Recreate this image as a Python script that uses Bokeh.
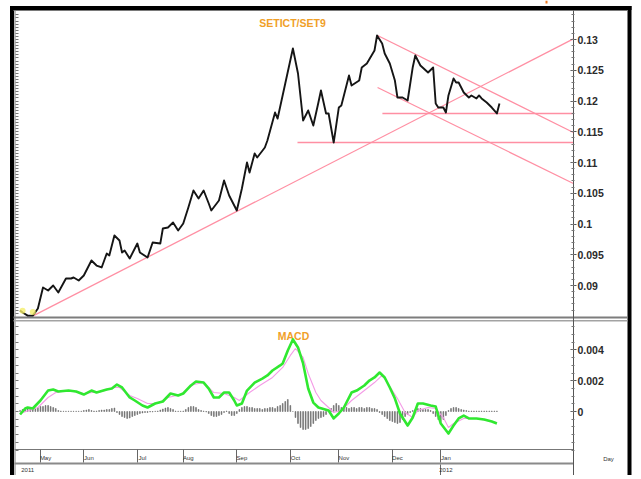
import numpy as np
from bokeh.plotting import figure
from bokeh.models import Range1d, LinearAxis, FixedTicker
from bokeh.core.properties import value
from bokeh.embed import file_html
from bokeh.resources import INLINE

# ---------------- data (x = trading-day index) ----------------
price_day = [1, 2, 4, 6, 8,
             10, 12, 14, 16, 19,
             21, 22, 24, 26, 29,
             31, 33, 34, 35, 36,
             38, 40, 41, 42, 44,
             47, 48, 51, 53, 56,
             57, 59, 61, 63, 65,
             67, 69, 71, 73, 75,
             76, 79, 81, 83, 86,
             88, 90, 91, 93, 94,
             97, 98, 101, 102, 105,
             108, 110, 112, 114, 116,
             118, 119, 121, 122, 124,
             126, 127, 130, 131, 134,
             135, 137, 140, 141, 143,
             144, 146, 148, 149, 151,
             153, 155, 156, 158, 161,
             163, 164, 165, 167, 168,
             169, 171, 172, 173, 175,
             177, 178, 180, 181, 182,
             184, 186, 188, 189]
price_val = [0.08593, 0.08561, 0.0851, 0.0851, 0.08626,
             0.08967, 0.08919, 0.0900, 0.08886, 0.09114,
             0.09114, 0.0913, 0.09081, 0.09163, 0.09407,
             0.09325, 0.09293, 0.09407, 0.0952, 0.09488,
             0.09813, 0.09732, 0.09537, 0.09569, 0.09439,
             0.09683, 0.09537, 0.09455, 0.09699, 0.09683,
             0.09927, 0.09943, 0.10024, 0.09894, 0.10008,
             0.10268, 0.10545, 0.10415, 0.10545, 0.10333,
             0.1022, 0.10382, 0.10707, 0.10463, 0.1022,
             0.10577, 0.1100, 0.10837, 0.11146, 0.11081,
             0.11244, 0.11358, 0.11813, 0.11715, 0.12285,
             0.12854, 0.12447, 0.11683, 0.11846, 0.11602,
             0.11976, 0.12171, 0.11797, 0.11797, 0.11325,
             0.11894, 0.11927, 0.12415, 0.12252, 0.12333,
             0.12545, 0.1261, 0.12821, 0.13065, 0.12935,
             0.12772, 0.1261, 0.12333, 0.12057, 0.12057,
             0.12008, 0.1255, 0.1274, 0.12577, 0.12463,
             0.12545, 0.11959, 0.11894, 0.11894, 0.11813,
             0.1209, 0.12366, 0.1230, 0.1230, 0.12138,
             0.12057, 0.1209, 0.12041, 0.1209, 0.12041,
             0.11976, 0.11894, 0.11797, 0.11959]

macd_day = [1, 3, 4, 6, 9, 12, 14, 16, 20, 23, 26, 29, 31, 35, 37, 39, 41, 44, 46, 49,
            51, 54, 57, 60, 63, 65, 68, 70, 73, 75, 77, 79, 81, 83, 85, 86, 88, 90, 93, 96,
            98, 100, 103, 104, 106, 108, 110, 112, 114, 116, 118, 122, 124, 126, 128, 131,
            133, 136, 138, 140, 142, 144, 146, 148, 150, 153, 155, 157, 159, 162, 164, 166,
            169, 171, 173, 175, 177, 180, 183, 186, 188]
macd_val = [-0.000195, 0.000195, 0.00026, 0.000195, 0.000714,
            0.00136, 0.00143, 0.0013, 0.00136, 0.0013,
            0.0011, 0.00136, 0.00123, 0.00143, 0.00149,
            0.00175, 0.00156, 0.00091, 0.000714, 0.00039,
            0.00026, 0.00052, 0.00065, 0.00117, 0.00104,
            0.00117, 0.00169, 0.00195, 0.00188, 0.00149,
            0.00091, 0.00091, 0.00123, 0.00123, 0.000714,
            0.00039, 0.00052, 0.00136, 0.00188, 0.00214,
            0.00234, 0.00266, 0.00299, 0.00312, 0.00396,
            0.00468, 0.00416, 0.00312, 0.00149, 0.00058,
            0.00026, 0.000065, -0.00045, -0.00013, 0.00026,
            0.00123, 0.00136, 0.00169, 0.00201, 0.00221,
            0.00253, 0.00221, 0.00156, 0.00084, -0.00013,
            -0.00091, -0.00039, 0.00052, 0.00052, 0.00039,
            0.00032, -0.00078, -0.00143, -0.00091, -0.00045,
            -0.00026, -0.00045, -0.00045, -0.00052, -0.00065,
            -0.00078]

signal_day = [1, 8, 12, 15, 20, 26, 33, 38, 40, 44, 47, 51, 55, 59, 64, 69, 73, 77, 81, 85,
              87, 91, 95, 100, 104, 107, 109, 112, 114, 117, 119, 122, 124, 127, 131, 136,
              140, 143, 145, 149, 152, 155, 157, 161, 164, 167, 169, 171, 175, 180, 188]
signal_val = [-0.00013, 0.00026, 0.00091, 0.00123, 0.00136,
              0.00117, 0.0013, 0.00156, 0.00156, 0.00104,
              0.00084, 0.00052, 0.00052, 0.00091, 0.0011,
              0.00175, 0.00188, 0.00123, 0.00117, 0.00091,
              0.000714, 0.00123, 0.00169, 0.00221, 0.00286,
              0.00364, 0.00409, 0.00351, 0.00247, 0.00123,
              0.000714, 0.00026, -0.000065, 0.000065, 0.000714,
              0.00136, 0.00188, 0.00234, 0.00188, 0.00084,
              -0.000065, -0.00039, 0.000065, 0.00026, 0.000195,
              -0.00039, -0.00104, -0.00078, -0.00045, -0.00045,
              -0.00071]

# histogram, in units of 1e-4, one bar per trading day (day 1 .. 189)
hist_e4 = [0.65, 1.3, 1.3, 1.95, 1.95, 1.95, 1.95,
           2.6, 3.25, 3.25, 3.9, 3.9, 3.25, 2.6, 1.95,
           0.65, 0.32, 0.19, 0.19, 0.19, 0.19, 0.19, 0.19, 0.19, 0.19,
           0.65, 0.97, 1.3, 0.65,
           0.32, 0.32,
           0.65, 0.97, 0.97, 1.3, 1.3,
           1.95, 2.27,
           -0.65, -1.95, -3.25, -3.9, -4.54, -4.22, -3.25, -2.6, -1.95,
           -1.3, -0.97, -0.65, -0.65, -0.32, -0.32, 0.19, 0.32,
           0.97, 1.62, 2.27, 2.6, 1.95, 1.3,
           0.32, 0.19, 0.19, 0.32,
           1.3, 2.6, 3.25, 3.25, 2.6,
           1.3, 0.65, 0.32, -0.32,
           -1.3, -2.6, -3.25, -3.25, -2.6, -1.95, -0.65, 0.32,
           -1.3, -2.6, -2.6, -1.3,
           1.3, 2.6, 3.25, 3.25, 2.6, 2.6, 1.95,
           1.95, 1.95, 1.3, 1.95, 1.95, 2.6, 2.6, 1.95,
           3.25, 3.9, 5.19, 6.49, 7.79,
           3.9, 0.0, -3.9, -7.79, -10.38, -11.68, -11.68, -11.03, -9.74, -7.79, -5.84,
           -4.54, -3.9, -3.25, -1.95,
           0.65, 1.95, 3.9, 5.19, 3.9, 2.6,
           2.6, 2.6, 1.95, 2.6, 2.6, 1.95, 2.6, 2.6, 1.95, 2.6, 2.6, 1.95, 1.95, 1.3,
           -0.65, -1.95, -3.25, -4.54, -5.84, -6.49, -7.14, -7.79, -7.14, -5.19,
           -3.25, -1.95, -0.65, 0.65,
           1.3, 1.95, 1.95, 1.3, 1.3, 1.3, 0.65,
           -1.3, -3.25, -5.19, -6.49, -5.19, -2.6,
           0.65, 1.95, 2.6, 2.6, 1.95, 1.3, 0.97, 0.65,
           0.32, 0.32, 0.32, 0.32, 0.32, 0.32, 0.32, 0.32, 0.32, 0.32, 0.32, 0.32]
hist_day = list(range(1, len(hist_e4) + 1))
hist_val = [v * 1e-4 for v in hist_e4]

months = ["May", "Jun", "Jul", "Aug", "Sep", "Oct", "Nov", "Dec", "Jan"]
month_start = [9, 26, 47, 65, 86, 107, 126, 147, 166]
years = ["2011", "2012"]
year_start = [1, 166]

price_ticks = [0.09, 0.095, 0.1, 0.105, 0.11, 0.115, 0.12, 0.125, 0.13]
price_labels = ["0.09", "0.095", "0.1", "0.105", "0.11", "0.115", "0.12", "0.125", "0.13"]
macd_ticks = [0.0, 0.002, 0.004]
macd_labels = ["0", "0.002", "0.004"]

# trend lines drawn on the price panel: (day0, price0) -> (day1, price1)
trend_x0 = [6.3, 141.2, 141.2, 143.1, 109.8]
trend_y0 = [0.0851, 0.13065, 0.1222, 0.11797, 0.11325]
trend_x1 = [218.0, 218.0, 218.0, 218.0, 218.0]
trend_y1 = [0.1301, 0.11488, 0.10659, 0.11797, 0.11325]

# ---------------- layout helpers (picture pixel -> data) ----------------
W, H = 634, 475
def day_at(px):
    return (px - 17) / 2.55
def price_at(py):
    return 0.13 - (py - 39) / 6150.0
def macd_at(py):
    return (411 - py) / 15400.0

FONT_NAME = "Liberation Sans"
FONT = value(FONT_NAME)

p = figure(width=W, height=H,
           x_range=Range1d(day_at(0), day_at(W)),
           y_range=Range1d(price_at(H), price_at(0)),
           x_axis_location=None, y_axis_location=None,
           toolbar_location=None, output_backend="svg",
           min_border=0, outline_line_color=None,
           background_fill_color="white", border_fill_color="white")
p.title.visible = False
p.xgrid.visible = False
p.ygrid.visible = False
p.extra_y_ranges = {"macd": Range1d(macd_at(H), macd_at(0)), "sy": Range1d(H, 0)}
p.extra_x_ranges = {"sx": Range1d(0, W)}

def box(l, r, t, b, color):
    p.quad(left=[l], right=[r], top=[t], bottom=[b], fill_color=color, line_color=None,
           x_range_name="sx", y_range_name="sy")

def hline(x0, x1, y, color, w=1):
    p.segment(x0=[x0], y0=[y], x1=[x1], y1=[y], line_color=color, line_width=w,
              x_range_name="sx", y_range_name="sy")

# frame decorations
box(9.5, 13.5, 5.5, H, "#000000")
box(9.5, 631, 5.5, 9.5, "#000000")
box(627, 631, 5.5, H, "#000000")
box(545, 547, 0, 3, "#f07a20")
hline(13, 627, 10, "#7a7a7a")
p.segment(x0=[14.5], y0=[9.5], x1=[14.5], y1=[H], line_color="#7a7a7a", line_width=1,
          x_range_name="sx", y_range_name="sy")
box(13, 627, 316, 318, "#7d7d7d")
box(13, 627, 319.5, 321, "#a3a3a3")
box(14, 573, 462, 464, "#8a8a8a")

# titles
p.text(x=[292], y=[22], text=["SETICT/SET9"], x_range_name="sx", y_range_name="sy",
       text_align="center", text_baseline="middle", text_color="#f0a028",
       text_font=FONT, text_font_style="bold", text_font_size="10.5px")
p.text(x=[293], y=[335], text=["MACD"], x_range_name="sx", y_range_name="sy",
       text_align="center", text_baseline="middle", text_color="#f0a028",
       text_font=FONT, text_font_style="bold", text_font_size="10.5px")
p.text(x=[608], y=[458], text=["Day"], x_range_name="sx", y_range_name="sy",
       text_align="center", text_baseline="middle", text_color="#333333",
       text_font=FONT, text_font_size="6px")

# trend lines
p.segment(x0=trend_x0, y0=trend_y0, x1=trend_x1, y1=trend_y1,
          line_color="#ff8fa3", line_width=1.3)

# price
p.line(price_day, price_val, line_color="#151515", line_width=1.9, line_join="round")
p.scatter([2, 6], [0.0859, 0.0857], size=6, color="#f4ee6a", alpha=0.8, line_color=None)

# MACD panel
p.vbar(x=hist_day, top=hist_val, bottom=0, width=0.3, fill_color="#6a6a6a",
       line_color="#6a6a6a", line_width=0.6, y_range_name="macd")
p.line(signal_day, signal_val, line_color="#f49be6", line_width=1.1, y_range_name="macd")
p.line(macd_day, macd_val, line_color="#30e830", line_width=2.6, y_range_name="macd",
       line_join="round")

# right price axis
price_minor = [round(0.086 + 0.001 * k, 4) for k in range(49)]
ax = LinearAxis(fixed_location=day_at(573), bounds=(price_at(H), price_at(10)),
                ticker=FixedTicker(ticks=price_ticks, minor_ticks=price_minor),
                major_label_overrides=dict(zip(price_ticks, price_labels)))
# right MACD axis
macd_minor = [round(-0.0025 + 0.0005 * k, 5) for k in range(17)]
am = LinearAxis(y_range_name="macd", fixed_location=day_at(573),
                ticker=FixedTicker(ticks=macd_ticks, minor_ticks=macd_minor),
                major_label_overrides=dict(zip(macd_ticks, macd_labels)))
for a in (ax, am):
    a.axis_line_color = "#555555" if a is ax else None
    a.major_tick_in = 3
    a.major_tick_out = 3
    a.minor_tick_in = 2
    a.minor_tick_out = 1
    a.major_tick_line_color = "#555555"
    a.minor_tick_line_color = "#777777"
    a.major_label_standoff = 1
    a.major_label_text_font = FONT_NAME
    a.major_label_text_font_style = "bold"
    a.major_label_text_font_size = "10.5px"
    a.major_label_text_color = "#2b2b2b"
    p.add_layout(a, "right")

# left rulers (minor ticks only)
left_price_minor = [round(0.0855 + 0.0005 * k, 5) for k in range(98)]
left_macd_minor = [round(-0.0025 + 0.0005 * k, 5) for k in range(17)]
for rng, mt in ((None, left_price_minor), ("macd", left_macd_minor)):
    kw = {"y_range_name": rng} if rng else {}
    la = LinearAxis(fixed_location=day_at(15), ticker=FixedTicker(ticks=[], minor_ticks=mt),
                    axis_line_color=None, minor_tick_in=3, minor_tick_out=0,
                    minor_tick_line_color="#777777", **kw)
    p.add_layout(la, "left")

# month row
ms = LinearAxis(y_range_name="sy", fixed_location=449,
                ticker=FixedTicker(ticks=[], minor_ticks=month_start),
                bounds=(day_at(14), day_at(573)), axis_line_color="#777777",
                minor_tick_in=0, minor_tick_out=13, minor_tick_line_color="#666666")
p.add_layout(ms, "below")
month_label_day = [d + 2 for d in month_start]
ml = LinearAxis(y_range_name="sy", fixed_location=449,
                ticker=FixedTicker(ticks=month_label_day),
                major_label_overrides=dict(zip(month_label_day, months)),
                axis_line_color=None, major_tick_line_color=None,
                major_tick_in=0, major_tick_out=0, major_label_standoff=5,
                major_label_text_font=FONT_NAME, major_label_text_font_size="6px",
                major_label_text_color="#333333")
p.add_layout(ml, "below")

# year row
ys = LinearAxis(y_range_name="sy", fixed_location=464,
                ticker=FixedTicker(ticks=[], minor_ticks=year_start[1:]),
                axis_line_color=None, minor_tick_in=0, minor_tick_out=11,
                minor_tick_line_color="#666666")
p.add_layout(ys, "below")
year_label_day = [year_start[0] + 3, year_start[1] + 2]
yl = LinearAxis(y_range_name="sy", fixed_location=464,
                ticker=FixedTicker(ticks=year_label_day),
                major_label_overrides=dict(zip(year_label_day, years)),
                axis_line_color=None, major_tick_line_color=None,
                major_tick_in=0, major_tick_out=0, major_label_standoff=3,
                major_label_text_font=FONT_NAME, major_label_text_font_size="6px",
                major_label_text_color="#333333")
p.add_layout(yl, "below")

open("out.html", "w").write(file_html(p, INLINE))
